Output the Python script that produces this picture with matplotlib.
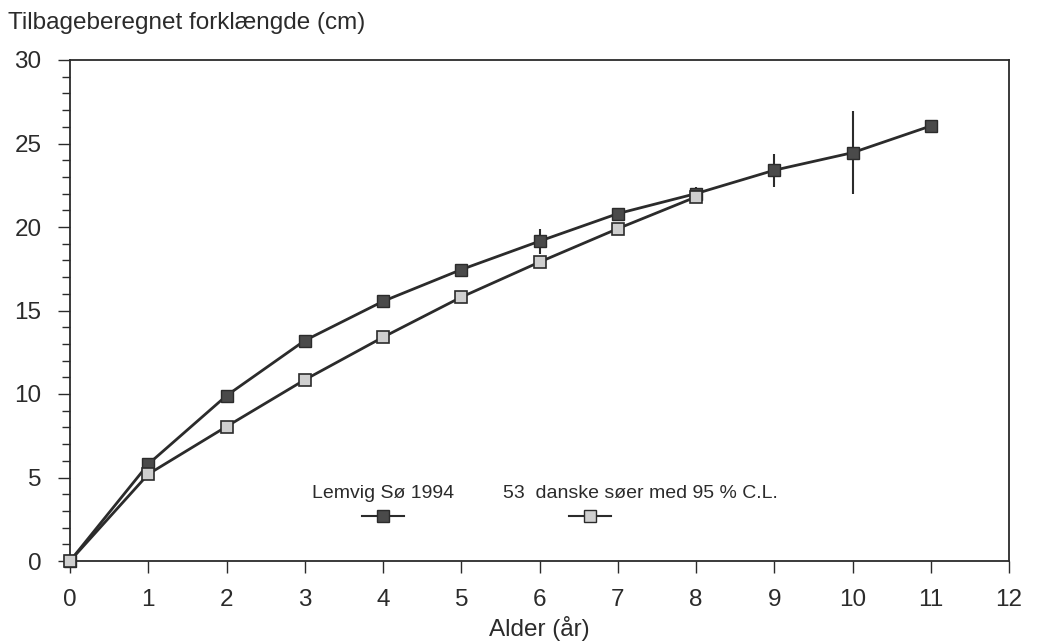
import matplotlib.pyplot as plt
import numpy as np

plt.rcParams['font.family'] = ['Liberation Sans', 'DejaVu Sans']

# alder (år)
age_lemvig = [0, 1, 2, 3, 4, 5, 6, 7, 8, 9, 10, 11]
len_lemvig = [0, 5.8, 9.9, 13.2, 15.55, 17.45, 19.15, 20.8, 22.0, 23.4, 24.45, 26.05]
ci_lemvig = [0, 0, 0.3, 0, 0.15, 0.3, 0.75, 0.15, 0.4, 1.0, 2.5, 0]

age_dk = [0, 1, 2, 3, 4, 5, 6, 7, 8]
len_dk = [0, 5.2, 8.05, 10.85, 13.4, 15.8, 17.9, 19.9, 21.8]

ink = '#2b2b2b'
dark_fill = '#4a4a4a'
light_fill = '#cfcfcf'

fig = plt.figure(figsize=(10.38, 6.43), dpi=100)
ax = fig.add_axes([70 / 1038, 1 - 561 / 643, (1009 - 70) / 1038, (561 - 60) / 643])

ax.errorbar(age_lemvig, len_lemvig, yerr=ci_lemvig, fmt='none', ecolor=ink,
            elinewidth=1.5, capsize=0, zorder=2)
ax.plot(age_lemvig, len_lemvig, '-s', color=ink, lw=2, ms=9,
        mfc=dark_fill, mec=ink, mew=1, zorder=3, clip_on=False)
ax.plot(age_dk, len_dk, '-s', color=ink, lw=2, ms=9,
        mfc=light_fill, mec=ink, mew=1.2, zorder=4, clip_on=False)

ax.set_xlim(0, 12)
ax.set_ylim(0, 30)
ax.set_xticks(range(0, 13))
ax.set_yticks(range(0, 31, 5))
ax.set_yticks(range(0, 31), minor=True)
ax.tick_params(axis='both', which='major', direction='out', length=8.5,
               width=1, color=ink, labelsize=17.5, labelcolor=ink)
ax.tick_params(axis='y', which='major', pad=12)
ax.tick_params(axis='x', which='major', pad=12)
ax.tick_params(axis='y', which='minor', direction='out', length=6, width=1, color=ink)
for s in ax.spines.values():
    s.set_color(ink)
    s.set_linewidth(1.3)
ax.set_xlabel('Alder (år)', fontsize=17.5, color=ink, labelpad=3)

fig.text(8 / 1038, 1 - 29 / 643, 'Tilbageberegnet forklængde (cm)',
         fontsize=17.5, color=ink, ha='left', va='baseline')

# legend drawn by hand: label above, key below
tr = ax.transAxes
def key(xc, fill, label, xl):
    ax.text(xl, 0.125, label, transform=tr, fontsize=14, color=ink,
            ha='left' if xl != xc else 'center', va='baseline')
    ax.plot([xc - 0.022, xc + 0.022], [0.09, 0.09], '-', color=ink, lw=1.5,
            transform=tr, clip_on=False)
    ax.plot([xc], [0.09], 's', ms=8, mfc=fill, mec=ink, mew=1, transform=tr,
            clip_on=False)

key((383 - 70) / 939, dark_fill, 'Lemvig Sø 1994', (383 - 70) / 939)
key((590 - 70) / 939, light_fill, '53  danske søer med 95 % C.L.', (503 - 70) / 939)

fig.savefig('out.png', dpi=100)
